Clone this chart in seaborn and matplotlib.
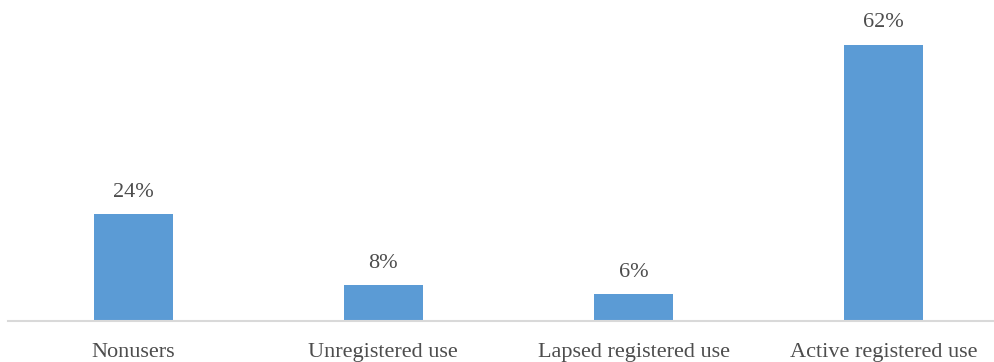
import matplotlib
matplotlib.use("Agg")
import matplotlib.pyplot as plt
import seaborn as sns
import pandas as pd

categories = ["Nonusers", "Unregistered use", "Lapsed registered use", "Active registered use"]
shares = [24, 8, 6, 62]
value_labels = ["24%", "8%", "6%", "62%"]

sns.set_theme(style="white")
plt.rcParams["font.family"] = ["Liberation Serif", "DejaVu Serif"]

text_color = "#4D4D4D"
bar_color = "#5B9BD5"

df = pd.DataFrame({"category": categories, "share": shares})

fig = plt.figure(figsize=(9.94, 3.62), dpi=100)
ax = fig.add_axes([8 / 994, 41 / 362, 1001 / 994, 312 / 362])

sns.barplot(data=df, x="category", y="share", color=bar_color, width=0.315,
            saturation=1, linewidth=0, ax=ax)

for i, (v, lab) in enumerate(zip(shares, value_labels)):
    ax.annotate(lab, (i, v), xytext=(0, 9), textcoords="offset points",
                ha="center", va="bottom", fontsize=16, color=text_color)

ax.set_xlim(-0.5, 3.5)
ax.set_ylim(0, 70)
ax.set_xlabel("")
ax.set_ylabel("")
ax.set_yticks([])
ax.tick_params(axis="x", length=0, pad=16, labelsize=16, labelcolor=text_color)
for side in ["top", "right", "left"]:
    ax.spines[side].set_visible(False)
ax.spines["bottom"].set_color("#D9D9D9")
ax.spines["bottom"].set_linewidth(1.5)

fig.savefig("out.png", dpi=100)
